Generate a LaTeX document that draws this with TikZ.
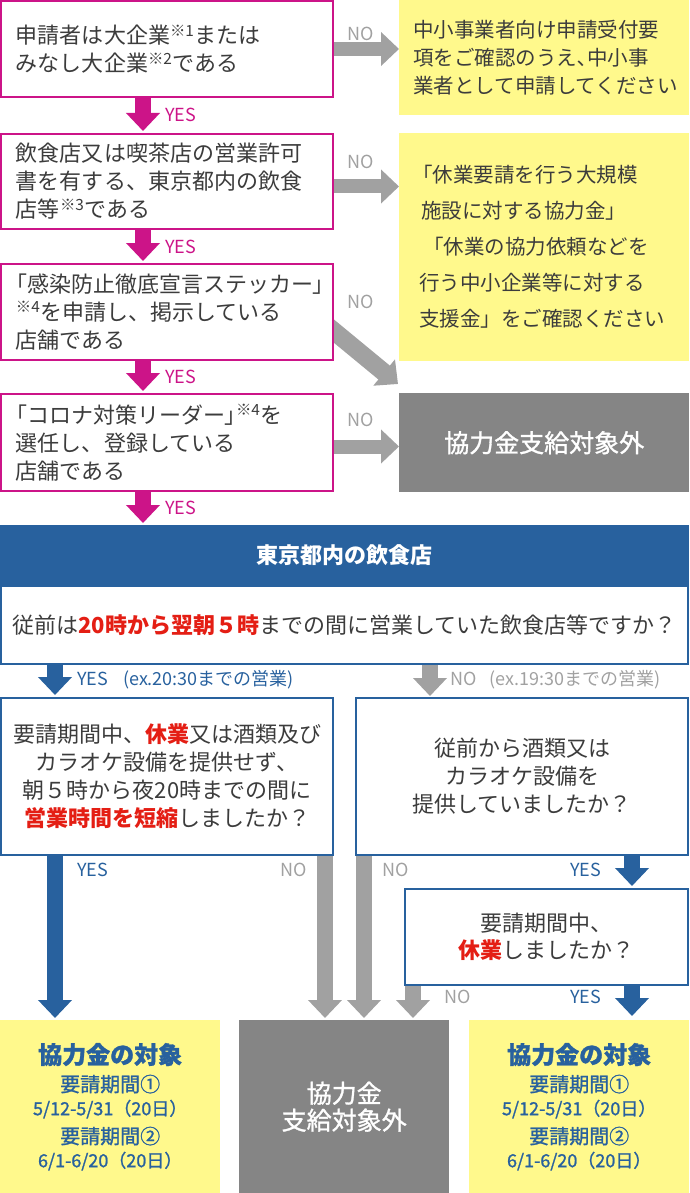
\documentclass[tikz,border=0pt]{standalone}
\usepackage{fontspec}
\setmainfont{Noto Sans CJK JP}
\newfontfamily\medfont{Noto Sans CJK JP}[FakeBold=1.2]
\usetikzlibrary{arrows.meta}

\definecolor{pinkc}{RGB}{204,20,136}
\definecolor{arrgray}{RGB}{161,161,161}
\definecolor{yel}{RGB}{255,249,140}
\definecolor{darkg}{RGB}{133,133,133}
\definecolor{hdblue}{RGB}{40,97,158}
\definecolor{redc}{RGB}{228,30,20}
\definecolor{txt}{RGB}{60,60,60}

\newcommand\kome[1]{\textsuperscript{※#1}}
\newcommand\redword[1]{{\bfseries\color{redc}#1}}
\newcommand\lk{{\addfontfeature{RawFeature=+palt}「}}
\newcommand\rk{{\addfontfeature{RawFeature=+palt}」}}

\begin{document}
\begin{tikzpicture}[x=1pt, y=-1pt]
    		\tikzstyle{pinkbox} = [draw=pinkc, line width=2pt, fill=white, anchor=north west, text width=302pt, inner xsep=15pt, align=left, text=txt, font=\fontsize{22}{28}\selectfont]
    		\tikzstyle{bluebox} = [draw=hdblue, line width=2pt, fill=white, anchor=north west, align=center, text=txt, font=\fontsize{22}{28}\selectfont]
    		\tikzstyle{yelbox} = [fill=yel, anchor=north west, align=left, text=txt, font=\fontsize{20.5}{28}\selectfont]
    		\tikzstyle{graybox} = [fill=darkg, anchor=north west, align=center, text=white, inner sep=0pt]
    		\tikzstyle{okbox} = [fill=yel, anchor=north west, align=center, text=hdblue, inner sep=0pt, font=\medfont\fontsize{20}{23.5}\selectfont]
    		\tikzstyle{yesarrow} = [draw=pinkc, line width=16pt, -{Triangle[width=33pt,length=18pt]}]
    		\tikzstyle{noarrow} = [draw=arrgray, line width=14pt, -{Triangle[width=33pt,length=18pt]}]
    		\tikzstyle{bluearrow} = [draw=hdblue, line width=16pt, -{Triangle[width=33pt,length=18pt]}]
    		\tikzstyle{lbl} = [anchor=west, inner sep=0pt, font=\fontsize{18}{20}\selectfont]
    		\useasboundingbox (0,0) rectangle (689,1193);
    		% 上段の判定
    		\node[pinkbox, minimum height=96pt] (q1) at (0,0) {申請者は大企業\kome{1}または\\みなし大企業\kome{2}である};
    		\node[pinkbox, minimum height=95pt] (q2) at (0,133) {飲食店又は喫茶店の営業許可\\書を有する、東京都内の飲食\\店等\kome{3}である};
    		\node[pinkbox, minimum height=96pt] (q3) at (0,263) {\lk 感染防止徹底宣言ステッカー\rk\\\kome{4}を申請し、掲示している\\店舗である};
    		\node[pinkbox, minimum height=97pt] (q4) at (0,393) {\lk コロナ対策リーダー\rk\kome{4}を\\選任し、登録している\\店舗である};
    		\node[yelbox, minimum width=290pt, minimum height=115pt, text width=262pt, inner xsep=14pt] (y1) at (399,0) {中小事業者向け申請受付要\\項をご確認のうえ､中小事\\業者として申請してください};
    		\node[yelbox, minimum width=290pt, minimum height=228pt, text width=264pt, inner xsep=13pt, font=\fontsize{20.5}{36}\selectfont] (y2) at (399,133) {「休業要請を行う大規模\\\hspace*{9pt}施設に対する協力金」\\\hspace*{11pt}「休業の協力依頼などを\\\hspace*{7pt}行う中小企業等に対する\\\hspace*{7pt}支援金」をご確認ください};
    		\node[graybox, minimum width=290pt, minimum height=99pt, font=\medfont\fontsize{25}{28}\selectfont] (r4) at (399,393) {協力金支給対象外};
    		% 東京都内の飲食店
    		\node[fill=hdblue, anchor=north west, minimum width=689pt, minimum height=60pt, inner sep=0pt, outer sep=0pt, text=white, font=\bfseries\fontsize{22}{26}\selectfont] (hd) at (0,525) {東京都内の飲食店};
    		\foreach \a/\b in {q1/q2, q2/q3, q3/q4, q4/hd}
    		{
        		\draw[yesarrow] ([xshift=143pt]\a.south west) -- ([xshift=143pt,yshift=2pt]\b.north west);
    		}
    		\draw[noarrow] (q1.east) -- (q1.east -| y1.west);
    		\draw[noarrow] ([yshift=-5pt]q2.east) -- ([yshift=-5pt]q2.east -| y2.west);
    		\draw[noarrow] ([yshift=-4pt]q4.east) -- ([yshift=-4pt]q4.east -| r4.west);
    		\begin{scope}
        		\clip (q3.north east) rectangle (r4.south east);
        		\draw[noarrow, line width=18pt] ([xshift=-16pt,yshift=-6pt]q3.east) -- ([xshift=-1pt,yshift=9pt]r4.north west);
    		\end{scope}
    		\node[bluebox, minimum width=687pt, minimum height=78pt] (qa) at (0,585) {従前は\redword{20時から翌朝５時}までの間に営業していた飲食店等ですか？};
    		\node[bluebox, minimum width=332pt, minimum height=157pt] (qb) at (0,697) {要請期間中、\redword{休業}又は酒類及び\\カラオケ設備を提供せず、\\朝５時から夜20時までの間に\\\redword{営業時間を短縮}しましたか？};
    		\node[bluebox, minimum width=332pt, minimum height=157pt] (qc) at (355,697) {従前から酒類又は\\カラオケ設備を\\提供していましたか？};
    		\node[bluebox, minimum width=283pt, minimum height=96pt, font=\fontsize{22}{27.5}\selectfont] (qd) at (404,888) {要請期間中、\\\redword{休業}しましたか？};
    		% 結果
    		\node[okbox, minimum width=220pt, minimum height=173pt] (ok1) at (0,1020) {{\bfseries\fontsize{24}{28}\selectfont 協力金の対象}\\[4.5pt]要請期間①\\{\fontsize{18}{20}\selectfont 5/12-5/31（20日）}\\[5pt]要請期間②\\{\fontsize{18}{20}\selectfont 6/1-6/20（20日）}};
    		\node[graybox, minimum width=210pt, minimum height=173pt, font=\medfont\fontsize{25}{27}\selectfont] (ng) at (239,1020) {協力金\\支給対象外};
    		\node[okbox, minimum width=220pt, minimum height=173pt] (ok2) at (469,1020) {{\bfseries\fontsize{24}{28}\selectfont 協力金の対象}\\[4.5pt]要請期間①\\{\fontsize{18}{20}\selectfont 5/12-5/31（20日）}\\[5pt]要請期間②\\{\fontsize{18}{20}\selectfont 6/1-6/20（20日）}};
    		\draw[bluearrow] ([xshift=55pt]qa.south west) -- ([xshift=55pt,yshift=2pt]qb.north west);
    		\draw[noarrow, line width=16pt] ([xshift=430pt]qa.south west) -- ([xshift=75pt,yshift=1pt]qc.north west);
    		\draw[bluearrow] ([xshift=55pt]qb.south west) -- ([xshift=55pt,yshift=2pt]ok1.north west);
    		\draw[noarrow, line width=16pt] ([xshift=325pt]qb.south west) -- ([xshift=86pt,yshift=2pt]ng.north west);
    		\draw[noarrow, line width=16pt] ([xshift=9pt]qc.south west) -- ([xshift=125pt,yshift=2pt]ng.north west);
    		\draw[bluearrow] ([xshift=277pt]qc.south west) -- ([xshift=228pt,yshift=2pt]qd.north west);
    		\draw[noarrow, line width=16pt] ([xshift=9pt]qd.south west) -- ([xshift=174pt,yshift=2pt]ng.north west);
    		\draw[bluearrow] ([xshift=228pt]qd.south west) -- ([xshift=163pt,yshift=4pt]ok2.north west);
    		% ラベル
		\foreach \nm/\px/\py in {no1/347/34, no2/347/162, no3/347/302, no4/347/420, no5/280/870, no6/382/870, no7/444/997}
    		{
        		\node[lbl, text=arrgray] (\nm) at (\px,\py) {NO};
    		}
		\foreach \nm/\py in {yes1/115, yes2/247, yes3/377, yes4/508}
    		{
        		\node[lbl, text=pinkc] (\nm) at (165,\py) {YES};
    		}
		\foreach \nm/\px/\py in {yes5/77/870, yes6/570/870, yes7/570/997}
    		{
        		\node[lbl, text=hdblue] (\nm) at (\px,\py) {YES};
    		}
    		\node[lbl, text=hdblue] (yesA) at (77,680) {YES\hspace{15pt}(ex.20:30までの営業)};
    		\node[lbl, text=arrgray] (noA) at (450,680) {NO\hspace{13pt}(ex.19:30までの営業)};
		\end{tikzpicture}
\end{document}
